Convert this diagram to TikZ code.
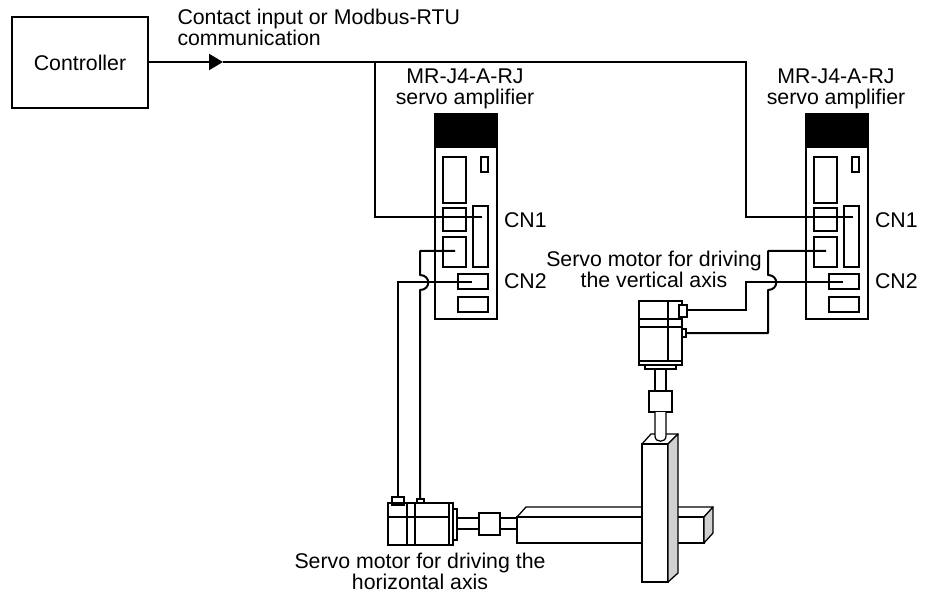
\documentclass[tikz,border=0pt]{standalone}
\usepackage{fontspec}
\setmainfont{Liberation Sans}
\usetikzlibrary{arrows.meta}
\definecolor{sidegray}{gray}{0.82}
\tikzset{
  thinline/.style={line width=1.25pt,black},
  thickline/.style={line width=2pt,black},
  part/.style={draw,line width=1.25pt,inner sep=0pt,outer sep=0pt,rectangle},
  label/.style={font=\fontsize{21.3}{21}\selectfont,inner sep=0pt,outer sep=0pt,align=center,anchor=base},
  leftlabel/.style={label,align=left,anchor=base west},
}
% \bx{name}{x1}{y1}{x2}{y2}{extra}
\newcommand{\bx}[6]{%
  \pgfmathsetmacro{\bxw}{#4-#2}\pgfmathsetmacro{\bxh}{#5-#3}%
  \pgfmathsetmacro{\bxcx}{(#2+#4)/2}\pgfmathsetmacro{\bxcy}{(#3+#5)/2}%
  \node[part,minimum width=\bxw pt,minimum height=\bxh pt,#6] (#1) at (\bxcx,\bxcy) {};}
% \ampunit{prefix}{x offset}
\newcommand{\ampunit}[2]{%
  \begin{scope}[xshift=#2pt]
    \bx{#1body}{435}{114}{497}{319}{}
    \bx{#1head}{435}{114}{497}{147}{fill=black}
    \bx{#1disp}{443}{157}{466}{203}{}
    \bx{#1led}{481}{157}{488}{172}{}
    \bx{#1mid}{443}{208}{466}{231}{}
    \bx{#1cnone}{473}{206}{488}{267}{}
    \bx{#1low}{443}{237}{466}{267}{}
    \bx{#1cntwo}{458}{274}{488}{289}{}
    \bx{#1bot}{458}{297}{488}{312}{}
    \coordinate (#1a) at (482,217);
    \coordinate (#1b) at (455,251);
    \coordinate (#1c) at (472,282);
  \end{scope}}
\begin{document}
\begin{tikzpicture}[x=1pt,y=-1pt]
\useasboundingbox (0,0) rectangle (928,593);
% controller
\node[part,minimum width=136pt,minimum height=91pt,font=\fontsize{21.3}{21}\selectfont] (ctrl) at (80,62.5) {Controller};
\node[leftlabel] (lblcomm) at (177.5,25) {Contact input or Modbus-RTU};
\node[leftlabel] (lblcomm2) at (177.5,46) {communication};
% amplifiers
\ampunit{A}{0}
\ampunit{B}{371}
\node[label] (lamp1a) at (465,84) {MR-J4-A-RJ};
\node[label] (lamp1b) at (465,105) {servo amplifier};
\node[label] (lamp2a) at (836,84) {MR-J4-A-RJ};
\node[label] (lamp2b) at (836,105) {servo amplifier};
\node[leftlabel] (cn1a) at (504,228) {CN1};
\node[leftlabel] (cn2a) at (504,289) {CN2};
\node[leftlabel] (cn1b) at (875,228) {CN1};
\node[leftlabel] (cn2b) at (875,289) {CN2};
\node[label] (lv1) at (654,267) {Servo motor for driving};
\node[label] (lv2) at (654,288) {the vertical axis};
\node[label] (lh1) at (420,568) {Servo motor for driving the};
\node[label] (lh2) at (420,589) {horizontal axis};
% signal line
\coordinate (tip) at (223,62);
\coordinate (turn1) at (375,62);
\coordinate (turn2) at (746,62);
\draw[thickline,-{Triangle[length=14pt,width=16pt]}] (ctrl.east |- tip) -- (tip);
\draw[thinline] (tip) -- (turn2) -- (turn2 |- Ba) -- (Ba);
\draw[thinline] (turn1) -- (turn1 |- Aa) -- (Aa);
% horizontal bar
\draw[thinline,fill=white,line join=round] (517,517) -- (526,507) -- (713,507) -- (704,517) -- cycle;
\bx{hbar}{517}{517}{704}{543}{fill=white}
\draw[thinline,fill=sidegray,line join=round] (704,517) -- (713,507) -- (713,533) -- (704,543) -- cycle;
% vertical block
\draw[thinline,fill=white,line join=round] (642,444) -- (651,434) -- (678,434) -- (668,444) -- cycle;
\bx{vbar}{642}{444}{668}{582}{fill=white}
\draw[thinline,fill=sidegray,line join=round] (668,444) -- (678,434) -- (678,573) -- (668,582) -- cycle;
% horizontal motor
\bx{hm}{388}{503}{453}{545}{}
\draw[thickline] (388,517) -- (448,517);
\draw[thinline] (407,503) -- (407,545);
\draw[thinline] (415,503) -- (415,545);
\draw[thickline] (449,503) -- (449,545);
\bx{hflange}{453}{509}{457}{540}{}
\bx{hcoup}{479}{513}{500}{535}{}
\bx{hshaftb}{500}{518}{517}{529}{}
\bx{hshafta}{457}{518}{479}{529}{}
\bx{hcon}{392}{497}{404}{505}{}
\bx{hcons}{417}{499}{424}{503}{}
% vertical motor
\bx{vm}{639}{301}{682}{365}{}
\draw[thinline] (639,319) -- (682,319);
\draw[thinline] (639,327) -- (682,327);
\draw[thinline] (639,361) -- (682,361);
\draw[thickline] (667.5,301) -- (667.5,361);
\bx{vflange}{645}{365}{676}{369}{}
\bx{vcoup}{649}{391}{672}{412}{}
\draw[thinline] (655,369) -- (655,391);
\draw[thinline] (666,369) -- (666,391);
\draw[thinline,fill=white] (655,412) -- (655,436) .. controls (655,443) and (666,443) .. (666,436) -- (666,412);
\bx{vcon}{679}{305}{687}{317}{fill=white}
\bx{vcons}{682}{329}{686}{337}{}
% encoder/power cables, amplifier A
\coordinate (A1) at (420,251);
\coordinate (A2) at (420,275);
\coordinate (A3) at (420,290);
\coordinate (A4) at (398,282);
\draw[thickline,line join=round] (Ab) -- (A1) -- (A2) .. controls (431,275) and (431,290) .. (A3) -- (A3 |- hcons.north);
\draw[thinline] (Ac) -- (A4) -- (A4 |- hcon.north);
% cables, amplifier B
\coordinate (B1) at (768,251);
\coordinate (B2) at (768,275);
\coordinate (B3) at (768,290);
\coordinate (B4) at (746,282);
\coordinate (B5) at (746,310);
\coordinate (B6) at (768,333);
\draw[thickline,line join=round] (Bb) -- (B1) -- (B2) .. controls (779,275) and (779,290) .. (B3) -- (B6) -- (vcons.east |- B6);
\draw[thinline] (Bc) -- (B4) -- (B5) -- (vcon.east |- B5);
\end{tikzpicture}
\end{document}
